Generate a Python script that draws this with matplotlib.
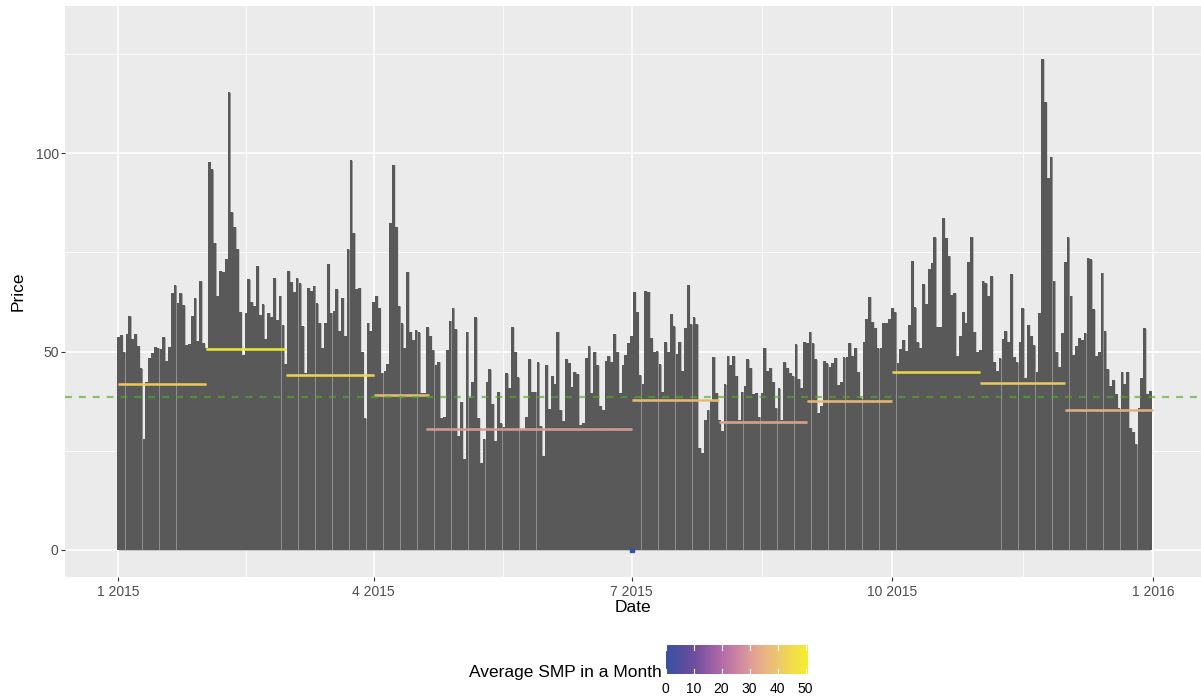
import numpy as np
import pandas as pd
import matplotlib
matplotlib.use("Agg")
import matplotlib.pyplot as plt
import matplotlib.dates as mdates
from matplotlib.colors import LinearSegmentedColormap, Normalize

plt.rcParams['font.family'] = ['Liberation Sans', 'DejaVu Sans']
plt.rcParams['lines.scale_dashes'] = False

# === 每日價格 (2015), one list per month ===
jan = [53.6, 54.1, 49.9, 54.4, 58.9, 53.1, 54.4, 51.4, 45.8, 27.9, 42.2, 48.3, 49.7, 51.1, 50.9, 50.6,
       53.6, 47.6, 51.1, 64.8, 66.7, 62.2, 64.7, 61.7, 51.6, 51.9, 58.9, 63.5, 52.6, 67.8, 52.1]
feb = [51.0, 97.7, 95.9, 77.4, 63.9, 70.4, 70.1, 73.2, 115.3, 85.1, 81.4, 75.8, 60.0, 49.1,
       59.6, 68.2, 62.5, 61.5, 71.5, 59.2, 61.9, 53.1, 59.8, 58.6, 68.4, 57.9, 64.1, 56.7]
mar = [46.9, 70.3, 67.4, 65.1, 68.5, 67.2, 56.4, 44.7, 66.1, 65.3, 66.6, 62.1, 57.2, 51.0, 57.1, 72.1,
       59.8, 60.1, 65.7, 55.1, 63.6, 54.0, 75.8, 98.2, 79.9, 65.7, 66.1, 50.0, 33.2, 57.3, 55.2]
apr = [62.4, 64.0, 61.0, 44.7, 45.1, 46.9, 82.4, 97.1, 81.4, 61.5, 57.1, 50.8, 70.1, 55.0, 52.9,
       55.4, 54.8, 39.6, 39.6, 56.1, 54.0, 50.4, 46.6, 47.4, 33.2, 33.4, 50.4, 57.8, 61.0, 55.6]
may = [28.7, 37.4, 22.8, 55.0, 38.2, 42.2, 58.6, 33.2, 22.0, 28.0, 42.2, 45.5, 36.9, 27.5, 39.9, 31.9,
       31.1, 44.5, 40.9, 56.1, 50.0, 43.5, 30.2, 30.1, 33.6, 48.0, 39.9, 39.9, 47.3, 31.2, 23.7]
jun = [46.6, 35.5, 43.8, 41.7, 55.0, 35.3, 32.5, 48.0, 47.0, 41.0, 44.9, 44.3, 31.5, 31.9, 48.3,
       51.4, 39.5, 50.0, 46.6, 36.3, 35.3, 47.6, 48.9, 47.4, 54.4, 50.0, 39.6, 46.6, 49.1, 52.1]
jul = [54.0, 65.1, 60.0, 44.1, 41.8, 65.2, 65.1, 53.3, 50.0, 50.1, 46.8, 39.9, 52.3, 50.0, 59.4, 56.3,
       49.4, 52.5, 45.1, 56.0, 66.7, 56.9, 58.6, 56.9, 25.8, 24.4, 32.7, 35.3, 37.8, 48.7, 39.6]
aug = [32.7, 30.0, 41.7, 48.9, 46.6, 48.9, 43.9, 32.7, 39.9, 41.4, 48.0, 45.9, 39.2, 39.5, 33.6, 39.5,
       51.0, 45.1, 45.9, 42.2, 35.8, 40.7, 32.7, 47.3, 45.8, 44.7, 43.8, 51.8, 43.1, 40.9, 52.5]
sep = [52.1, 55.0, 52.1, 48.0, 34.4, 36.3, 47.7, 47.0, 46.0, 47.0, 48.4, 41.6, 42.2, 48.5, 48.5,
       52.2, 48.9, 51.0, 44.8, 38.2, 52.5, 58.1, 63.8, 57.5, 56.0, 50.8, 51.0, 57.1, 57.3, 58.1]
oct_ = [61.0, 60.0, 47.0, 50.7, 53.0, 50.1, 56.6, 72.8, 61.1, 52.3, 50.8, 66.9, 62.0, 70.7, 72.2, 78.8,
        56.1, 56.1, 83.7, 78.7, 74.1, 64.2, 64.8, 48.9, 54.0, 59.9, 57.1, 72.5, 78.9, 55.0, 50.0]
nov = [50.4, 67.8, 67.2, 64.1, 69.0, 47.3, 45.2, 48.3, 53.2, 55.2, 52.5, 69.5, 48.7, 47.3, 52.5,
       60.9, 43.2, 56.8, 54.0, 51.6, 44.9, 59.6, 123.7, 112.8, 93.6, 99.1, 67.8, 50.0, 46.0, 54.6]
dec = [72.5, 78.8, 64.1, 49.1, 51.4, 53.3, 52.9, 54.7, 73.6, 73.2, 60.6, 48.9, 49.8, 69.9, 55.2, 45.5,
       41.4, 42.8, 39.2, 35.7, 44.9, 41.7, 44.9, 30.8, 29.8, 26.7, 35.7, 43.2, 55.8, 39.2, 40.1]

# monthly average SMP segments
seg_start = ["2015-01-01 00:00", "2015-02-01 00:00", "2015-03-01 00:00", "2015-04-01 00:00",
             "2015-04-19 16:00", "2015-07-01 00:00", "2015-08-01 00:00", "2015-09-01 00:00",
             "2015-10-01 00:00", "2015-11-01 00:00", "2015-12-01 00:00"]
seg_end = ["2015-02-01 00:00", "2015-03-01 00:00", "2015-04-01 00:00", "2015-04-20 16:00",
           "2015-07-01 00:00", "2015-08-01 00:00", "2015-09-01 00:00", "2015-10-01 00:00",
           "2015-11-01 00:00", "2015-12-01 00:00", "2016-01-01 00:00"]
seg_avg = [41.9, 50.7, 44.2, 39.0, 30.6, 37.9, 32.2, 37.6, 44.9, 42.1, 35.3]
zero_date = "2015-07-01"
zero_avg = 0.0
year_avg = 38.6

x_ticks = ["2015-01-01", "2015-04-01", "2015-07-01", "2015-10-01", "2016-01-01"]
x_tick_labels = ["1 2015", "4 2015", "7 2015", "10 2015", "1 2016"]
y_ticks = [0, 50, 100]
cbar_ticks = [0, 10, 20, 30, 40, 50]

prices = np.concatenate([jan, feb, mar, apr, may, jun, jul, aug, sep, oct_, nov, dec])
days = mdates.date2num(pd.date_range("2015-01-01", periods=len(prices), freq="D"))

vmax = max(seg_avg)
norm = Normalize(vmin=0, vmax=vmax)
# colour scale (0 -> blue, max -> yellow); stops given in data units
stops = [(0, "#3A50A0"), (10, "#6E4E9C"), (20, "#B46BAA"), (30, "#DE9A98"),
         (35, "#EAB386"), (40, "#EEC66E"), (45, "#F2DC4C"), (vmax, "#F5EE2E")]
cmap = LinearSegmentedColormap.from_list("smp", [(v / vmax, c) for v, c in stops])

W, H = 1201, 699
fig = plt.figure(figsize=(W / 100, H / 100), dpi=100)
ax = fig.add_axes([65.3 / W, (H - 576.7) / H, (W - 65.3) / W, (576.7 - 6.3) / H])
ax.set_facecolor("#EBEBEB")

# lighter fill underneath so the thin gaps between bars read as faint grey seams
ax.fill_between(days, prices, step="mid", color="#8F8F8F", linewidth=0, zorder=1.9)
ax.bar(days, prices, width=0.955, color="#595959", linewidth=0, zorder=2)

for s, e, v in zip(seg_start, seg_end, seg_avg):
    c = cmap(norm(v))
    xs = mdates.date2num(pd.to_datetime([s, e], format="%Y-%m-%d %H:%M"))
    ax.plot(xs, [v, v], color=c, lw=1.8, solid_capstyle="butt", zorder=3)
    dark = tuple(np.array(c[:3]) * 0.88)
    ax.plot(xs, [v, v], color=dark, lw=0.5, ls=(0, (0.7, 0.8)), zorder=3.1)

ax.plot(mdates.date2num(pd.to_datetime([zero_date])), [zero_avg], "s", ms=2.2,
        color=cmap(norm(zero_avg)), zorder=4)
ax.axhline(year_avg, color="#4CAF2A", alpha=0.65, lw=1.6, ls=(0, (5, 5)), zorder=4)

x0 = mdates.date2num(pd.Timestamp("2015-01-01"))
ax.set_xlim(x0 - 18.75, x0 + 381.9)
ax.set_ylim(-6.73, 136.96)

xt = mdates.date2num(pd.to_datetime(x_ticks))
ax.set_xticks(xt)
ax.set_xticklabels(x_tick_labels)
ax.set_xticks((xt[:-1] + xt[1:]) / 2, minor=True)
ax.set_yticks(y_ticks)
ax.set_yticks([25, 75, 125], minor=True)

ax.grid(which="major", color="white", lw=1.1)
ax.grid(which="minor", color="white", lw=0.55)
ax.set_axisbelow(True)
for sp in ax.spines.values():
    sp.set_visible(False)
ax.tick_params(which="major", length=2.75, width=0.8, color="#333333",
               labelsize=10, labelcolor="#4D4D4D")
ax.tick_params(axis="x", pad=3)
ax.tick_params(axis="y", pad=2)
ax.tick_params(which="minor", length=0)

fig.text(633 / W, 1 - 607 / H, "Date", ha="center", va="center", fontsize=12.5)
fig.text(18 / W, 1 - 291 / H, "Price", rotation=90, ha="center", va="center", fontsize=12.5)

# colour bar legend
cax = fig.add_axes([665.5 / W, (H - 674) / H, 142 / W, 29 / H])
grad = np.linspace(0, vmax, 300)[None, :]
cax.imshow(grad, aspect="auto", cmap=cmap, norm=norm, extent=[0, vmax, 0, 1])
cax.set_xlim(0, vmax)
cax.set_ylim(0, 1)
for t in cbar_ticks:
    cax.plot([t, t], [0, 0.18], color="white", lw=0.8)
    cax.plot([t, t], [0.82, 1], color="white", lw=0.8)
cax.set_xticks(cbar_ticks)
cax.set_xticklabels([str(t) for t in cbar_ticks])
cax.set_yticks([])
cax.tick_params(length=0, pad=6, labelsize=10, labelcolor="black")
for sp in cax.spines.values():
    sp.set_visible(False)
fig.text(661.7 / W, 1 - 676.7 / H, "Average SMP in a Month", ha="right", va="baseline", fontsize=12.5)

fig.savefig("out.png", dpi=100)
